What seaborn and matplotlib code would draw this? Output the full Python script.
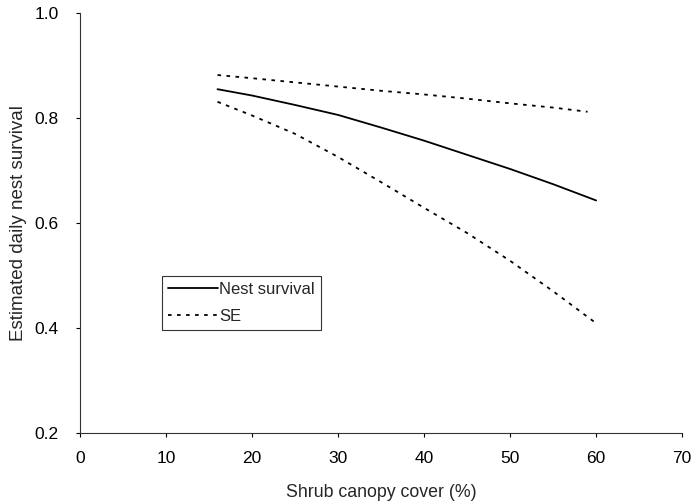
import matplotlib
matplotlib.use("Agg")
import matplotlib.pyplot as plt
import seaborn as sns
import pandas as pd

# Data
cover = [16, 20, 25, 30, 35, 40, 45, 50, 55, 60]
nest_survival = [0.855, 0.843, 0.825, 0.806, 0.782, 0.757, 0.730, 0.703, 0.674, 0.643]
se_lower = [0.831, 0.805, 0.770, 0.726, 0.678, 0.629, 0.581, 0.528, 0.470, 0.409]
cover_upper = [16, 20, 25, 30, 35, 40, 45, 50, 55, 59]
se_upper = [0.882, 0.876, 0.868, 0.860, 0.852, 0.845, 0.837, 0.828, 0.820, 0.812]

x_ticks = [0, 10, 20, 30, 40, 50, 60, 70]
y_ticks = [0.2, 0.4, 0.6, 0.8, 1.0]

sns.set_style("ticks")
plt.rcParams['font.family'] = ['Liberation Sans', 'DejaVu Sans']

fig = plt.figure(figsize=(6.94, 5.04), dpi=100)
ax = fig.add_axes([0.115, 0.141, 0.868, 0.833])

df_main = pd.DataFrame({"x": cover, "y": nest_survival})
df_low = pd.DataFrame({"x": cover, "y": se_lower})
df_up = pd.DataFrame({"x": cover_upper, "y": se_upper})

sns.lineplot(data=df_main, x="x", y="y", ax=ax, color="black", lw=1.3,
             label="Nest survival")
sns.lineplot(data=df_up, x="x", y="y", ax=ax, color="black", lw=1.3,
             label="SE")
sns.lineplot(data=df_low, x="x", y="y", ax=ax, color="black", lw=1.3,
             label="_nolegend_")
lines = ax.get_lines()
for ln in lines[1:3]:
    ln.set_dashes([2, 3])

ax.set_xlim(0, 70)
ax.set_ylim(0.2, 1.0)
ax.set_xticks(x_ticks)
ax.set_yticks(y_ticks)
ax.set_yticklabels([f"{v:.1f}" for v in y_ticks])
ax.tick_params(axis="both", direction="out", length=3, width=0.8,
               labelsize=12.5, colors="black")
ax.tick_params(axis="x", pad=10)
ax.tick_params(axis="y", pad=12)
for s in ["top", "right"]:
    ax.spines[s].set_visible(False)
for s in ["left", "bottom"]:
    ax.spines[s].set_linewidth(0.8)
    ax.spines[s].set_color("#333333")

ax.set_xlabel("Shrub canopy cover (%)", fontsize=12.8, labelpad=13)
ax.set_ylabel("Estimated daily nest survival", fontsize=13.5)
ax.yaxis.set_label_coords(-0.088, 0.5)

leg = ax.legend(loc="lower left", bbox_to_anchor=(0.136, 0.245), frameon=True,
                fancybox=False, edgecolor="black", fontsize=12,
                handlelength=3.0, handletextpad=0.1, borderpad=0.35,
                labelspacing=0.75, borderaxespad=0)
leg.get_frame().set_linewidth(0.8)

fig.savefig("out.png", dpi=100)
